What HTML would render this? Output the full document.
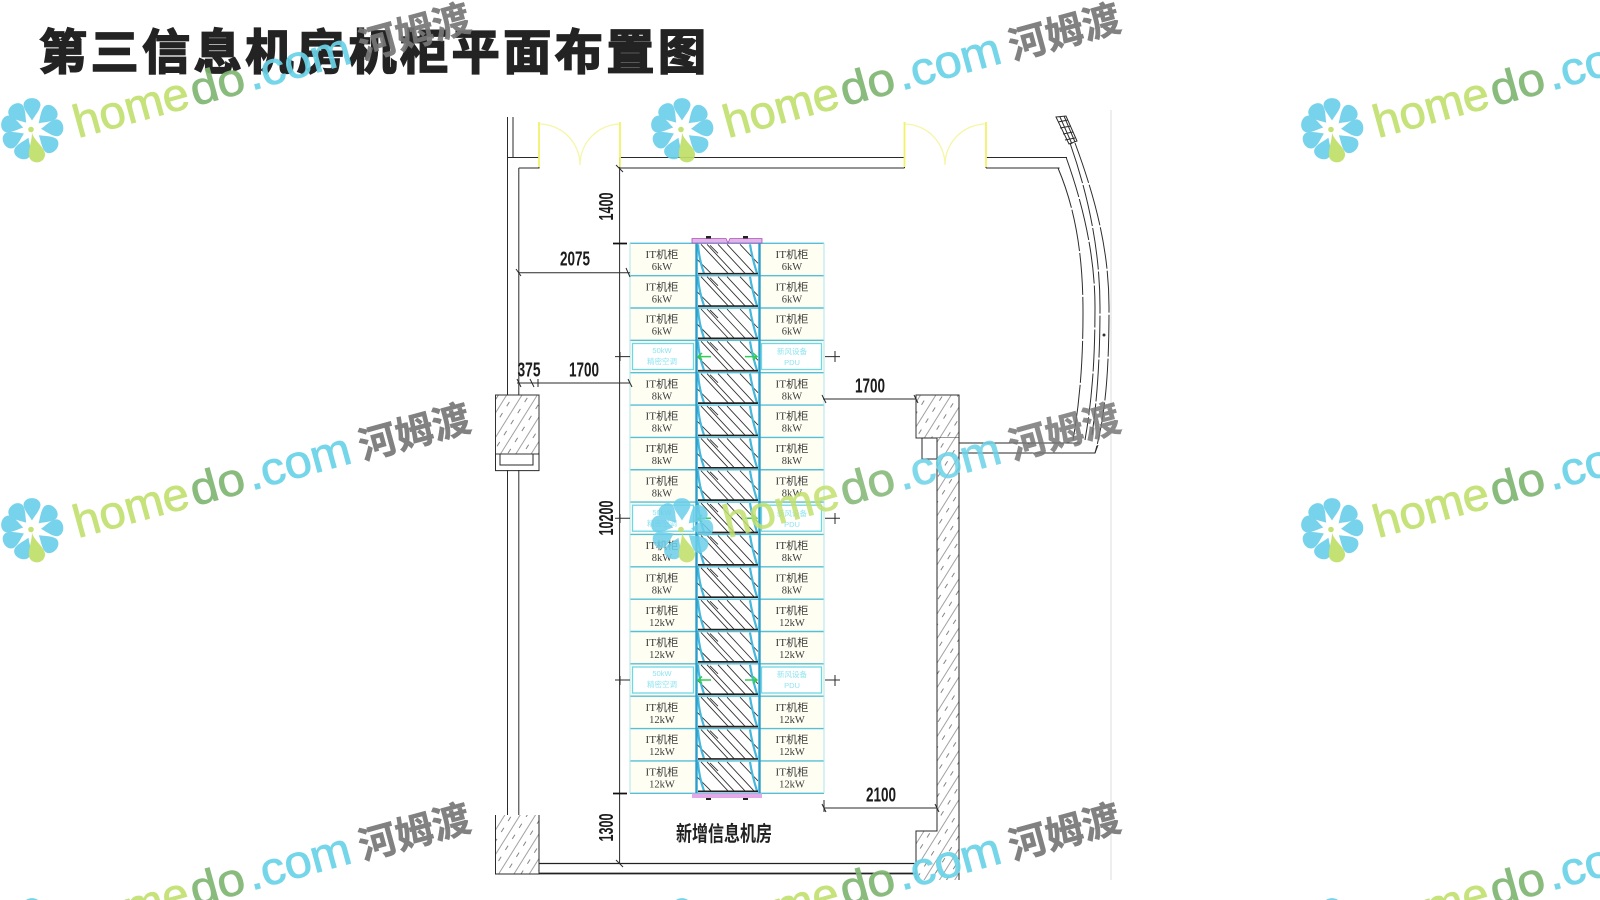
<!DOCTYPE html>
<html lang="zh"><head><meta charset="utf-8"><title>第三信息机房机柜平面布置图</title>
<style>
html,body{margin:0;padding:0;background:#fff;width:1600px;height:900px;overflow:hidden}
svg{display:block;overflow:hidden;filter:blur(.3px)}
.l{font:10.5px "Liberation Serif","Noto Sans CJK SC",sans-serif;fill:#3c3c3c;text-anchor:middle}
.a{font:7.5px "Liberation Sans","Noto Sans CJK SC",sans-serif;fill:#8fe4ef;text-anchor:middle}
.d{font:bold 20px "Liberation Sans",sans-serif;fill:#1c1c1c;text-anchor:middle}
.w{fill:none;stroke:#2a2a2a;stroke-width:1}
.wf{font-family:"Liberation Sans",sans-serif;font-size:46px;stroke-width:.8px}
.g1{fill:#c2e06f;stroke:#c2e06f}.g2{fill:#7fb673;stroke:#7fb673}.g3{fill:#6bd3e8;stroke:#6bd3e8}
.cn{font-family:"Noto Sans CJK SC",sans-serif;font-weight:700;font-size:38px;fill:#777;stroke:#777;stroke-width:.5px}
</style></head><body>
<svg xmlns="http://www.w3.org/2000/svg" width="1600" height="900" viewBox="0 0 1600 900">
<defs>
<pattern id="wh" patternUnits="userSpaceOnUse" width="13" height="13" patternTransform="rotate(-58)">
<rect width="13" height="13" fill="#fff"/><line x1="0" y1="2" x2="13" y2="2" stroke="#8a8a8a" stroke-width=".8"/><line x1="2" y1="8" x2="7" y2="8" stroke="#666" stroke-width=".8"/>
</pattern>
<symbol id="ai" width="64" height="32.35" viewBox="0 0 64 32.35">
<rect width="64" height="32.35" fill="#fff"/>
<path d="M5 1L32 30M11 1L38 30M22 1L49 30M31 1L58 30M44 1L62 20M1 16L15 30M14 2L22 10" stroke="#333" stroke-width=".9" fill="none"/>
<path d="M2 1Q3 16 8 30M54 1Q56 14 61 30" stroke="#45b8dc" stroke-width="2.2" fill="none"/>
<line x1="2" y1="30.4" x2="62" y2="30.4" stroke="#222" stroke-width="1.7"/>
</symbol>
<g id="pt"><path d="M0-9C-3-14-8.500-20-8.500-25C-7.500-33.500 7.500-33.500 8.500-25C8.500-20 3-14 0-9Z" fill="#6ccfea"/></g>
<g id="flower">
<use href="#pt" transform="rotate(0)"/><use href="#pt" transform="rotate(47)"/><use href="#pt" transform="rotate(86)"/><use href="#pt" transform="rotate(130)"/><use href="#pt" transform="rotate(203)"/><use href="#pt" transform="rotate(244)"/><use href="#pt" transform="rotate(283)"/><use href="#pt" transform="rotate(320)"/>
<path d="M0 3C2 12 14 18 13 26C11.500 35-1 35-3 27C-4 20 0 12 0 3Z" fill="#bfdf68"/>
<circle cx="-1" cy="0" r="2.800" fill="#bfdf68"/>
</g>
</defs>
<rect width="1600" height="900" fill="#fff"/>
<text x="39" y="69" font-family="'Noto Sans CJK SC','Liberation Sans',sans-serif" font-weight="700" font-size="48" textLength="667" fill="#232323" stroke="#232323" stroke-width="1.8">第三信息机房机柜平面布置图</text>

<!-- rack rows -->
<rect x="630" y="243.3" width="66" height="550" fill="#fffef2"/>
<rect x="760" y="243.3" width="64" height="550" fill="#fffef2"/>
<use href="#ai" x="696" y="243.3"/><use href="#ai" x="696" y="275.65"/><use href="#ai" x="696" y="308"/><use href="#ai" x="696" y="340.35"/><use href="#ai" x="696" y="372.7"/><use href="#ai" x="696" y="405.05"/><use href="#ai" x="696" y="437.4"/><use href="#ai" x="696" y="469.75"/><use href="#ai" x="696" y="502.1"/><use href="#ai" x="696" y="534.45"/><use href="#ai" x="696" y="566.8"/><use href="#ai" x="696" y="599.15"/><use href="#ai" x="696" y="631.5"/><use href="#ai" x="696" y="663.85"/><use href="#ai" x="696" y="696.2"/><use href="#ai" x="696" y="728.55"/><use href="#ai" x="696" y="760.9"/>
<g fill="#fff" stroke="#6fd6e6" stroke-width="1.3">
<rect x="632.5" y="343.5" width="61" height="26"/><rect x="761.5" y="343.5" width="60" height="26"/>
<rect x="632.5" y="505.2" width="61" height="26"/><rect x="761.5" y="505.2" width="60" height="26"/>
<rect x="632.5" y="667" width="61" height="26"/><rect x="761.5" y="667" width="60" height="26"/>
</g>
<path d="M630 243.3H824M630 275.65H824M630 308H824M630 340.35H824M630 372.7H824M630 405.05H824M630 437.4H824M630 469.75H824M630 502.1H824M630 534.45H824M630 566.8H824M630 599.15H824M630 631.5H824M630 663.85H824M630 696.2H824M630 728.55H824M630 760.9H824M630 793.3H824" stroke="#55bfd8" stroke-width="1.4" fill="none"/>
<path d="M630 243V793M824 243V793" stroke="#aee6ef" stroke-width="1" fill="none"/>
<path d="M696.5 243V793M759.5 243V793" stroke="#2a9fcc" stroke-width="2.4" fill="none"/>
<!-- green arrows -->
<path d="M698 356.6H711M702 353L698 356.6L702 360M745 356.6H757M753 353L757 356.6L753 360M698 518.3H711M702 515L698 518.3L702 522M745 518.3H757M753 515L757 518.3L753 522M698 680H711M702 676.5L698 680L702 683.5M745 680H757M753 676.5L757 680L753 683.5" stroke="#33cc55" stroke-width="1.5" fill="none"/>
<!-- pink ends -->
<path d="M692 238.5H726L728 243L730 238.5H762V243H692Z" fill="#e3b6ea" stroke="#b050b8" stroke-width=".8"/>
<rect x="706" y="236" width="5" height="2.5" fill="#222"/><rect x="743" y="236" width="5" height="2.5" fill="#222"/>
<rect x="692" y="793.5" width="70" height="4.5" fill="#e3a8ea"/>
<rect x="706" y="798" width="5" height="2" fill="#222"/><rect x="743" y="798" width="5" height="2" fill="#222"/>

<!-- rack labels -->
<text class="l" x="662" y="258" textLength="33" lengthAdjust="spacingAndGlyphs">IT机柜</text><text class="l" x="662" y="270">6kW</text>
<text class="l" x="792" y="258" textLength="33" lengthAdjust="spacingAndGlyphs">IT机柜</text><text class="l" x="792" y="270">6kW</text>
<text class="l" x="662" y="290.3" textLength="33" lengthAdjust="spacingAndGlyphs">IT机柜</text><text class="l" x="662" y="302.3">6kW</text>
<text class="l" x="792" y="290.3" textLength="33" lengthAdjust="spacingAndGlyphs">IT机柜</text><text class="l" x="792" y="302.3">6kW</text>
<text class="l" x="662" y="322.7" textLength="33" lengthAdjust="spacingAndGlyphs">IT机柜</text><text class="l" x="662" y="334.7">6kW</text>
<text class="l" x="792" y="322.7" textLength="33" lengthAdjust="spacingAndGlyphs">IT机柜</text><text class="l" x="792" y="334.7">6kW</text>
<text class="a" x="662" y="353">50kW</text><text class="a" x="662" y="364">精密空调</text>
<text class="a" x="792" y="354">新风设备</text><text class="a" x="792" y="365">PDU</text>
<text class="l" x="662" y="387.4" textLength="33" lengthAdjust="spacingAndGlyphs">IT机柜</text><text class="l" x="662" y="399.4">8kW</text>
<text class="l" x="792" y="387.4" textLength="33" lengthAdjust="spacingAndGlyphs">IT机柜</text><text class="l" x="792" y="399.4">8kW</text>
<text class="l" x="662" y="419.7" textLength="33" lengthAdjust="spacingAndGlyphs">IT机柜</text><text class="l" x="662" y="431.7">8kW</text>
<text class="l" x="792" y="419.7" textLength="33" lengthAdjust="spacingAndGlyphs">IT机柜</text><text class="l" x="792" y="431.7">8kW</text>
<text class="l" x="662" y="452.1" textLength="33" lengthAdjust="spacingAndGlyphs">IT机柜</text><text class="l" x="662" y="464.1">8kW</text>
<text class="l" x="792" y="452.1" textLength="33" lengthAdjust="spacingAndGlyphs">IT机柜</text><text class="l" x="792" y="464.1">8kW</text>
<text class="l" x="662" y="484.4" textLength="33" lengthAdjust="spacingAndGlyphs">IT机柜</text><text class="l" x="662" y="496.4">8kW</text>
<text class="l" x="792" y="484.4" textLength="33" lengthAdjust="spacingAndGlyphs">IT机柜</text><text class="l" x="792" y="496.4">8kW</text>
<text class="a" x="662" y="515">50kW</text><text class="a" x="662" y="526">精密空调</text>
<text class="a" x="792" y="516">新风设备</text><text class="a" x="792" y="527">PDU</text>
<text class="l" x="662" y="549.1" textLength="33" lengthAdjust="spacingAndGlyphs">IT机柜</text><text class="l" x="662" y="561.1">8kW</text>
<text class="l" x="792" y="549.1" textLength="33" lengthAdjust="spacingAndGlyphs">IT机柜</text><text class="l" x="792" y="561.1">8kW</text>
<text class="l" x="662" y="581.5" textLength="33" lengthAdjust="spacingAndGlyphs">IT机柜</text><text class="l" x="662" y="593.5">8kW</text>
<text class="l" x="792" y="581.5" textLength="33" lengthAdjust="spacingAndGlyphs">IT机柜</text><text class="l" x="792" y="593.5">8kW</text>
<text class="l" x="662" y="613.8" textLength="33" lengthAdjust="spacingAndGlyphs">IT机柜</text><text class="l" x="662" y="625.8">12kW</text>
<text class="l" x="792" y="613.8" textLength="33" lengthAdjust="spacingAndGlyphs">IT机柜</text><text class="l" x="792" y="625.8">12kW</text>
<text class="l" x="662" y="646.2" textLength="33" lengthAdjust="spacingAndGlyphs">IT机柜</text><text class="l" x="662" y="658.2">12kW</text>
<text class="l" x="792" y="646.2" textLength="33" lengthAdjust="spacingAndGlyphs">IT机柜</text><text class="l" x="792" y="658.2">12kW</text>
<text class="a" x="662" y="676">50kW</text><text class="a" x="662" y="687">精密空调</text>
<text class="a" x="792" y="677">新风设备</text><text class="a" x="792" y="688">PDU</text>
<text class="l" x="662" y="710.9" textLength="33" lengthAdjust="spacingAndGlyphs">IT机柜</text><text class="l" x="662" y="722.9">12kW</text>
<text class="l" x="792" y="710.9" textLength="33" lengthAdjust="spacingAndGlyphs">IT机柜</text><text class="l" x="792" y="722.9">12kW</text>
<text class="l" x="662" y="743.2" textLength="33" lengthAdjust="spacingAndGlyphs">IT机柜</text><text class="l" x="662" y="755.2">12kW</text>
<text class="l" x="792" y="743.2" textLength="33" lengthAdjust="spacingAndGlyphs">IT机柜</text><text class="l" x="792" y="755.2">12kW</text>
<text class="l" x="662" y="775.6" textLength="33" lengthAdjust="spacingAndGlyphs">IT机柜</text><text class="l" x="662" y="787.6">12kW</text>
<text class="l" x="792" y="775.6" textLength="33" lengthAdjust="spacingAndGlyphs">IT机柜</text><text class="l" x="792" y="787.6">12kW</text>

<!-- hatched walls -->
<rect x="495.5" y="395" width="43.5" height="59" fill="url(#wh)" stroke="#333"/>
<rect x="495.5" y="815" width="43.5" height="59" fill="url(#wh)"/>
<path d="M495.5 815V874H539V815" class="w"/>
<rect x="916" y="395" width="43" height="43" fill="url(#wh)" stroke="#333"/>
<path d="M937 438H959V831H937Z" fill="url(#wh)"/>
<path d="M916 831H959V880H916Z" fill="url(#wh)"/>
<!-- wall lines -->
<path class="w" d="M507.500 117V395M518.800 168V395M513 117V157M507.500 470V815M518.800 470V815"/>
<path class="w" d="M507 157.500H539V168H518.800M619.600 157.500H904.500M619.600 168H904.500M986 157.500H1067M986 168H1059.600M904.500 157.500V168M986 157.500V168M619.600 157.500V168"/>
<path class="w" d="M495.500 454V470.600H539V454M500 454V465H533V454"/>
<path class="w" d="M937 438V831H916V880M959 395V880M922 438V459H937M922 438H937"/>
<path d="M539 863.500H916" stroke="#222" stroke-width="1.2" fill="none"/>
<path d="M539 873.500H916" stroke="#222" stroke-width="1.8" fill="none"/>
<path class="w" d="M959 453H1095L1098 445M959 443H1080"/>
<!-- doors -->
<g fill="none" stroke="#f6f6a8" stroke-width="1.3">
<path d="M539 124A41 41 0 0 1 580 165M620 124A41 41 0 0 0 580 165M904.500 124A41 41 0 0 1 945 165M986 124A41 41 0 0 0 945 165"/>
</g>
<g stroke="#f2f26a" stroke-width="1.8"><path d="M539 122V167M620 122V167M904.500 122V167M986 122V167"/></g>
<!-- curved wall -->
<g fill="none" stroke="#2c2c2c" stroke-width="1">
<path stroke-dasharray="42 2" d="M1058 168C1078 215 1083 265 1083 313C1083 360 1080 400 1073 440"/>
<path stroke-dasharray="42 2" d="M1066 157C1085 210 1095 260 1095 307C1095 360 1092 400 1085 440"/>
<path stroke-dasharray="42 2" d="M1070 143C1090 200 1100 255 1100 307C1100 360 1097 400 1092 435"/>
<path stroke-dasharray="42 2" d="M1075 143C1098 205 1109 255 1109 307C1109 360 1107 410 1095 453"/>
<path d="M1056 117L1066 116L1077 141L1069 144ZM1060 117L1072 144M1064 116L1075 142M1058 122L1068 120M1060 128L1071 126M1063 134L1073 132M1065 140L1075 138"/>
</g>
<circle cx="1104" cy="335" r="1.500" fill="#333"/>
<rect x="1110" y="110" width="2" height="770" fill="#eee"/>
<!-- dimensions -->
<g fill="none" stroke="#2a2a2a" stroke-width="1">
<path d="M619.600 168V863M518.800 272.700H630M517 383H630M823 399H916M824 808H937M824 800V812"/>
<path d="M626 268L630 277M516 269L521 276M517 379L521 387M538 379V387M530 379L534 387M628 379L632 387M822 395L826 403M914 395L918 403M822 804L826 812M935 804L939 812"/>
<path d="M615 356.600H630M620 352V361M615 518.300H630M620 514V523M615 680H630M620 676V685M825 356.600H840M835 351V362M825 518.300H840M835 513V524M825 680H840M835 675V686"/>
<path d="M616 165L623 172M616 860L623 867"/>
</g>
<path d="M613 243.500H627M613 793.500H627" stroke="#111" stroke-width="1.8"/>
<text class="d" x="575" y="265.500" textLength="30" lengthAdjust="spacingAndGlyphs">2075</text>
<text class="d" x="529" y="376.500" textLength="23" lengthAdjust="spacingAndGlyphs">375</text>
<text class="d" x="584" y="376.500" textLength="30" lengthAdjust="spacingAndGlyphs">1700</text>
<text class="d" x="870" y="392.500" textLength="30" lengthAdjust="spacingAndGlyphs">1700</text>
<text class="d" x="881" y="801.500" textLength="30" lengthAdjust="spacingAndGlyphs">2100</text>
<text class="d" transform="translate(613,206.500) rotate(-90)" textLength="28" lengthAdjust="spacingAndGlyphs">1400</text>
<text class="d" transform="translate(613,518) rotate(-90)" textLength="35" lengthAdjust="spacingAndGlyphs">10200</text>
<text class="d" transform="translate(613,827.500) rotate(-90)" textLength="28" lengthAdjust="spacingAndGlyphs">1300</text>
<text x="0" y="0" transform="translate(676,841) scale(1,1.3)" font-family="'Noto Sans CJK SC',sans-serif" font-weight="700" font-size="16" fill="#222">新增信息机房</text>

<!-- watermarks -->
<g transform="translate(32,129.500)" opacity=".92">
<use href="#flower"/>
<g transform="translate(46,8.500) rotate(-15.3)" class="wf">
<text class="g1" x="0" y="0" textLength="118" lengthAdjust="spacingAndGlyphs">home</text>
<text class="g2" x="121" y="0" textLength="55" lengthAdjust="spacingAndGlyphs">do</text>
<text class="g3" x="180" y="0" textLength="106" lengthAdjust="spacingAndGlyphs">.com</text>
</g>
<text class="cn" transform="translate(331,-69.500) rotate(-15.3)">河姆渡</text>
</g>
<g transform="translate(682,129.500)" opacity=".92">
<use href="#flower"/>
<g transform="translate(46,8.500) rotate(-15.3)" class="wf">
<text class="g1" x="0" y="0" textLength="118" lengthAdjust="spacingAndGlyphs">home</text>
<text class="g2" x="121" y="0" textLength="55" lengthAdjust="spacingAndGlyphs">do</text>
<text class="g3" x="180" y="0" textLength="106" lengthAdjust="spacingAndGlyphs">.com</text>
</g>
<text class="cn" transform="translate(331,-69.500) rotate(-15.3)">河姆渡</text>
</g>
<g transform="translate(1332,129.500)" opacity=".92">
<use href="#flower"/>
<g transform="translate(46,8.500) rotate(-15.3)" class="wf">
<text class="g1" x="0" y="0" textLength="118" lengthAdjust="spacingAndGlyphs">home</text>
<text class="g2" x="121" y="0" textLength="55" lengthAdjust="spacingAndGlyphs">do</text>
<text class="g3" x="180" y="0" textLength="106" lengthAdjust="spacingAndGlyphs">.com</text>
</g>
</g>
<g transform="translate(32,529.500)" opacity=".92">
<use href="#flower"/>
<g transform="translate(46,8.500) rotate(-15.3)" class="wf">
<text class="g1" x="0" y="0" textLength="118" lengthAdjust="spacingAndGlyphs">home</text>
<text class="g2" x="121" y="0" textLength="55" lengthAdjust="spacingAndGlyphs">do</text>
<text class="g3" x="180" y="0" textLength="106" lengthAdjust="spacingAndGlyphs">.com</text>
</g>
<text class="cn" transform="translate(331,-69.500) rotate(-15.3)">河姆渡</text>
</g>
<g transform="translate(682,529.500)" opacity=".85">
<use href="#flower"/>
<g transform="translate(46,8.500) rotate(-15.3)" class="wf">
<text class="g1" x="0" y="0" textLength="118" lengthAdjust="spacingAndGlyphs">home</text>
<text class="g2" x="121" y="0" textLength="55" lengthAdjust="spacingAndGlyphs">do</text>
<text class="g3" x="180" y="0" textLength="106" lengthAdjust="spacingAndGlyphs">.com</text>
</g>
<text class="cn" transform="translate(331,-69.500) rotate(-15.3)">河姆渡</text>
</g>
<g transform="translate(1332,529.500)" opacity=".92">
<use href="#flower"/>
<g transform="translate(46,8.500) rotate(-15.3)" class="wf">
<text class="g1" x="0" y="0" textLength="118" lengthAdjust="spacingAndGlyphs">home</text>
<text class="g2" x="121" y="0" textLength="55" lengthAdjust="spacingAndGlyphs">do</text>
<text class="g3" x="180" y="0" textLength="106" lengthAdjust="spacingAndGlyphs">.com</text>
</g>
</g>
<g transform="translate(32,929.500)" opacity=".92">
<use href="#flower"/>
<g transform="translate(46,8.500) rotate(-15.3)" class="wf">
<text class="g1" x="0" y="0" textLength="118" lengthAdjust="spacingAndGlyphs">home</text>
<text class="g2" x="121" y="0" textLength="55" lengthAdjust="spacingAndGlyphs">do</text>
<text class="g3" x="180" y="0" textLength="106" lengthAdjust="spacingAndGlyphs">.com</text>
</g>
<text class="cn" transform="translate(331,-69.500) rotate(-15.3)">河姆渡</text>
</g>
<g transform="translate(682,929.500)" opacity=".92">
<use href="#flower"/>
<g transform="translate(46,8.500) rotate(-15.3)" class="wf">
<text class="g1" x="0" y="0" textLength="118" lengthAdjust="spacingAndGlyphs">home</text>
<text class="g2" x="121" y="0" textLength="55" lengthAdjust="spacingAndGlyphs">do</text>
<text class="g3" x="180" y="0" textLength="106" lengthAdjust="spacingAndGlyphs">.com</text>
</g>
<text class="cn" transform="translate(331,-69.500) rotate(-15.3)">河姆渡</text>
</g>
<g transform="translate(1332,929.500)" opacity=".92">
<use href="#flower"/>
<g transform="translate(46,8.500) rotate(-15.3)" class="wf">
<text class="g1" x="0" y="0" textLength="118" lengthAdjust="spacingAndGlyphs">home</text>
<text class="g2" x="121" y="0" textLength="55" lengthAdjust="spacingAndGlyphs">do</text>
<text class="g3" x="180" y="0" textLength="106" lengthAdjust="spacingAndGlyphs">.com</text>
</g>
</g>
</svg>
</body></html>
